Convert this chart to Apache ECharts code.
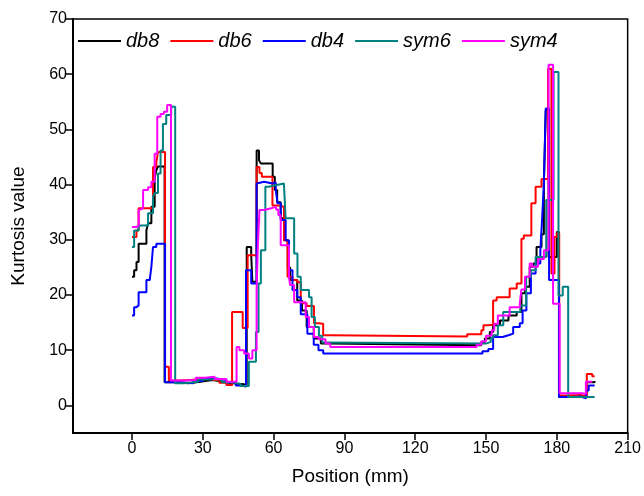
<!DOCTYPE html>
<html>
<head>
<meta charset="utf-8">
<script src="https://cdn.jsdelivr.net/npm/echarts@6/dist/echarts.min.js"></script>
<style>html,body{margin:0;padding:0;background:#fff}#c{width:644px;height:496px}</style>
</head>
<body>
<div id="c"></div>
<script>
// Series names
const seriesNames = ['db8', 'db6', 'db4', 'sym6', 'sym4'];
const seriesColors = ['#000000', '#ff0000', '#0000ff', '#008080', '#ff00ff'];
// Tick labels
const xTicks = [0, 30, 60, 90, 120, 150, 180, 210];
const yTicks = [0, 10, 20, 30, 40, 50, 60, 70];

// [position (mm), kurtosis] — each value holds until the next position
const db8Data = [[0,23.3],[0.9,24.5],[1.9,26],[2.8,29.3],[6.1,31.7],[6.8,33],[8.2,36],[9.6,41.2],[10.3,42.6],[11,43.3],[13.8,4.2],[18,4.0],[24,4.3],[29,4.6],[34,4.4],[37,4.1],[41,3.9],[45,3.8],[48.6,28.7],[50.5,27.2],[51,22.4],[52.8,46.2],[53.8,44.4],[54.6,43.8],[59.6,41.4],[60.5,39],[61.5,36.8],[63,33.9],[64.4,29.9],[66,25],[67,22.7],[70,19],[72,17.2],[74,14.2],[77,12.1],[80,11.2],[83,10.9],[148,11.5],[149.5,12.1],[151.6,13.3],[153,14.5],[155.9,15.4],[159.5,16.3],[163,16.9],[165,20.3],[166.5,21.5],[168.5,25.1],[170,25.7],[171.4,28.7],[173.5,31],[174.5,40],[175.3,53.5],[176.5,26.9],[180,31.4],[180.9,1.5],[185,1.7],[190,1.6],[192.5,4.2],[196,4.4]];
const db6Data = [[0,30.5],[1.9,31.7],[2.8,35.7],[8.9,43.2],[10.3,44],[11,45.9],[14,7],[15.6,4.5],[20,4.6],[25,4.8],[29,5.0],[34,4.6],[37,4.1],[40,3.7],[42.4,16.9],[46.9,14],[49,27.2],[52.8,43.2],[54,42.1],[55,41.4],[59.5,36.2],[62,36],[64.4,29.9],[65.9,23.3],[68,22.7],[70,22.3],[71.5,18.5],[74,18],[77.1,14.9],[79,14.8],[81,12.7],[84,12.5],[142,12.9],[148,13.6],[148.9,14.5],[151,14.6],[153,19],[154.5,19.6],[160,21.2],[163,22.1],[165,30.2],[166,30.8],[169.2,36.6],[171,39.6],[173.5,41],[176.3,61],[177.7,23.9],[179,30.5],[180,31.2],[181,1.8],[185,1.9],[190,1.6],[192.7,5.7],[195,5.3],[196,5.3]];
const db4Data = [[0,16.3],[0.9,17.8],[1.9,18.1],[2.8,20.5],[6.1,22.7],[7.5,23],[8.2,25.1],[8.9,28.7],[10.3,29.3],[14,4.2],[20,4.0],[26,4.4],[30,4.9],[35,4.6],[40,4.2],[44,3.6],[46,3.4],[48.3,24.5],[50.5,22.1],[52.8,40.2],[53.5,40.5],[56,40.2],[59.5,40.4],[60.9,39],[61.7,36.6],[63,33.6],[65.1,29.9],[66.5,24.5],[68,20.9],[70,19.6],[71.5,16.5],[74.3,13],[77,11],[79,10],[81,9.4],[148.5,9.8],[151,10.2],[153,12.4],[157,12.7],[159.5,13],[161.5,14.2],[164.3,14.9],[165.5,17.2],[167.1,20.3],[169,23.9],[171,25.7],[173,28],[173.8,34.1],[174.5,40.2],[175.3,53.8],[176.7,22.7],[180.9,1.5],[186,1.6],[190,1.3],[192.4,2.7],[193.5,3.6],[196,3.6]];
const sym6Data = [[0,28.7],[0.9,31.7],[2.8,32.6],[6.8,34.8],[8.9,37.8],[9.6,38.5],[11,42],[12.1,46.2],[13.1,51],[14.5,52.6],[16.6,54.1],[18.3,4.0],[22,4.3],[28,4.7],[32,4.8],[38,4.2],[42,3.9],[46,3.5],[49.5,7.9],[52.5,13.3],[53.6,22.1],[54.6,28.1],[56.5,39.6],[58,39.9],[60.9,40.2],[64.4,39.8],[65.1,33.9],[68.7,27.5],[70.1,23.3],[71.5,20.9],[75,19.6],[76.1,16],[77.5,14.2],[79.2,12.6],[80.6,11.4],[82,11.2],[150,11.5],[152,12.2],[153,12.7],[155,14.5],[157.3,16.9],[164.5,18.1],[167,23.3],[169,24.5],[171,26.9],[175.5,37.2],[178.6,60.4],[180.7,19.9],[182.5,21.5],[184.8,1.5],[196,1.5]];
const sym4Data = [[0,32.3],[1.9,32.6],[2.8,35.4],[3.3,35.7],[4.7,39],[6.8,39.5],[8.2,40.5],[9.6,45.6],[10.7,52.3],[12.1,52.8],[13.5,53.2],[14.9,54.4],[16.5,4.5],[22,4.6],[27,5.0],[31,5.2],[35,4.8],[40,4.3],[44.3,10.6],[45.5,10],[47.5,9.4],[49.5,8.5],[51,10],[52.8,20.9],[53.3,28.7],[54,35.4],[56,35.7],[59,36],[61,35.5],[62,34.5],[63,29],[66.5,23.3],[67,21.8],[68.7,18.7],[73.6,16],[75,14.2],[77.1,12.4],[79,12],[82,11.2],[84,10.6],[146,11],[148,11.6],[150,12.6],[152.4,13.6],[153.5,14.8],[155,16.3],[160,17.8],[164.3,18.5],[165,21],[166.5,23.3],[168.5,25.7],[169.5,25.1],[172,26.5],[174.5,28.1],[176.5,61.7],[178.4,18.4],[181.2,2.2],[191,2.0],[192.3,4.3],[195,4.3]];

const allData = [db8Data, db6Data, db4Data, sym6Data, sym4Data];

const chart = echarts.init(document.getElementById('c'), null, {renderer: 'canvas'});
const font = 'Liberation Sans, Arial, sans-serif';
chart.setOption({
  animation: false,
  backgroundColor: '#fff',
  grid: {left: 73, right: 16, top: 19, bottom: 63, show: true, borderColor: '#000', borderWidth: 1.5, containLabel: false},
  legend: {
    data: seriesNames.map(n => ({name: n, icon: 'rect'})),
    left: 78, top: 31, padding: 0,
    itemWidth: 43, itemHeight: 2, itemGap: 11,
    textStyle: {fontFamily: font, fontSize: 20, fontStyle: 'italic', color: '#000'}
  },
  xAxis: {
    type: 'value', min: -25, max: 210,
    name: 'Position (mm)', nameLocation: 'middle', nameGap: 34,
    nameTextStyle: {fontFamily: font, fontSize: 19, color: '#000'},
    axisLine: {show: true, onZero: false, lineStyle: {color: '#000', width: 2}},
    axisTick: {show: true, length: 7, lineStyle: {color: '#000', width: 1.5}, customValues: xTicks},
    axisLabel: {fontFamily: font, fontSize: 16, color: '#000', margin: 8, customValues: xTicks},
    splitLine: {show: false}
  },
  yAxis: {
    type: 'value', min: -5, max: 70,
    name: 'Kurtosis value', nameLocation: 'middle', nameGap: 45,
    nameTextStyle: {fontFamily: font, fontSize: 19, color: '#000'},
    axisLine: {show: true, onZero: false, lineStyle: {color: '#000', width: 2}},
    axisTick: {show: true, length: 7, lineStyle: {color: '#000', width: 1.5}, customValues: yTicks},
    axisLabel: {fontFamily: font, fontSize: 16, color: '#000', margin: 6, customValues: yTicks},
    splitLine: {show: false}
  },
  series: seriesNames.map((n, i) => ({
    name: n, type: 'line', step: 'end', data: allData[i],
    symbol: 'none', showSymbol: false,
    lineStyle: {color: seriesColors[i], width: 2},
    itemStyle: {color: seriesColors[i]},
    z: 2 + i
  }))
});
</script>
</body>
</html>
